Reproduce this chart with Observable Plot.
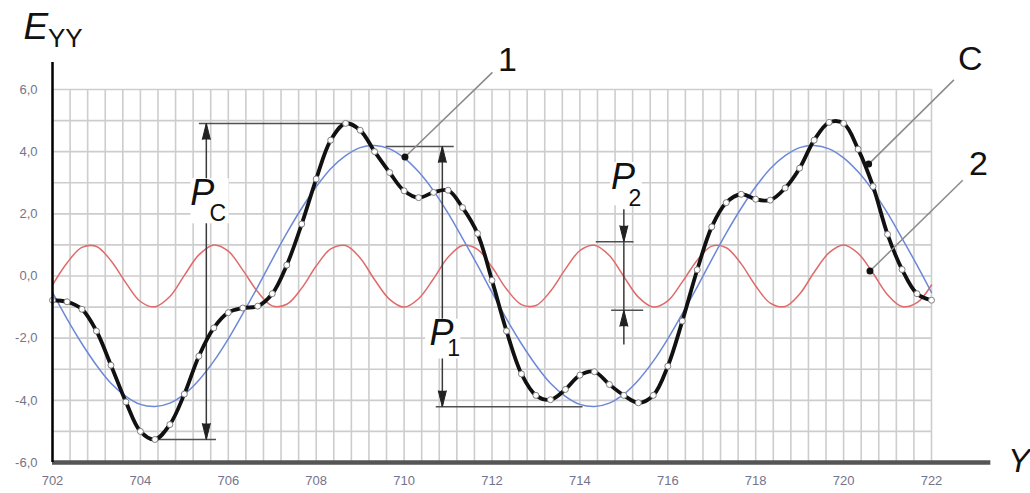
<!DOCTYPE html>
<html><head><meta charset="utf-8">
<script src="https://cdn.jsdelivr.net/npm/d3@7"></script>
<script src="https://cdn.jsdelivr.net/npm/@observablehq/plot@0.6"></script>
<style>body{margin:0;background:#fff;}</style>
</head><body><div id="chart"></div>
<script>
// ---- data ----
const xs = [702, 702.33, 702.67, 703, 703.33, 703.67, 704, 704.33, 704.67, 705,
  705.33, 705.67, 706, 706.33, 706.67, 707, 707.33, 707.67, 708, 708.33,
  708.67, 709, 709.33, 709.67, 710, 710.33, 710.67, 711, 711.33, 711.67,
  712, 712.33, 712.67, 713, 713.33, 713.67, 714, 714.33, 714.67, 715,
  715.33, 715.67, 716, 716.33, 716.67, 717, 717.33, 717.67, 718, 718.33,
  718.67, 719, 719.33, 719.67, 720, 720.33, 720.67, 721, 721.33, 721.67, 722];
// curve C (sum)
const seriesC = [-0.78, -0.83, -1.07, -1.77, -2.87, -4.05, -5.0, -5.26, -4.78, -3.8,
  -2.58, -1.67, -1.18, -1.03, -0.97, -0.57, 0.35, 1.67, 3.12, 4.37,
  4.91, 4.69, 4.0, 3.33, 2.74, 2.52, 2.69, 2.76, 2.2, 1.37,
  -0.14, -1.77, -3.15, -3.84, -3.98, -3.65, -3.19, -3.08, -3.49, -3.84,
  -4.08, -3.84, -2.9, -1.45, 0.2, 1.58, 2.36, 2.63, 2.47, 2.44,
  2.83, 3.47, 4.37, 4.94, 4.91, 4.08, 2.88, 1.34, 0.21, -0.57, -0.78];
// curve 1 (blue)
const series1 = [-0.53, -1.38, -2.18, -2.87, -3.45, -3.87, -4.13, -4.2, -4.09, -3.8,
  -3.35, -2.74, -2.02, -1.21, -0.35, 0.53, 1.38, 2.18, 2.87, 3.45,
  3.87, 4.13, 4.2, 4.09, 3.8, 3.35, 2.74, 2.02, 1.21, 0.35,
  -0.53, -1.38, -2.18, -2.87, -3.45, -3.87, -4.13, -4.2, -4.09, -3.8,
  -3.35, -2.74, -2.02, -1.21, -0.35, 0.53, 1.38, 2.18, 2.87, 3.45,
  3.87, 4.13, 4.2, 4.09, 3.8, 3.35, 2.74, 2.02, 1.21, 0.35, -0.53];
// curve 2 (red)
const series2 = [-0.29, 0.42, 0.92, 0.95, 0.49, -0.22, -0.82, -0.99, -0.66, 0.02,
  0.68, 1.0, 0.8, 0.19, -0.51, -0.96, -0.91, -0.39, 0.32, 0.87,
  0.98, 0.58, -0.12, -0.75, -1.0, -0.73, -0.09, 0.6, 0.98, 0.86,
  0.29, -0.42, -0.92, -0.95, -0.49, 0.22, 0.82, 0.99, 0.66, -0.02,
  -0.68, -1.0, -0.8, -0.19, 0.51, 0.96, 0.91, 0.39, -0.32, -0.87,
  -0.98, -0.58, 0.12, 0.75, 1.0, 0.73, 0.09, -0.6, -0.98, -0.86, -0.29];

const xTicks = [702, 704, 706, 708, 710, 712, 714, 716, 718, 720, 722];
const yTicks = [-6, -4, -2, 0, 2, 4, 6];
const yTickLabels = ["-6,0", "-4,0", "-2,0", "0,0", "2,0", "4,0", "6,0"];

// ---- annotations ----
const dimVertical = [
  {x: 705.5, y1: 4.91, y2: -5.26},
  {x: 710.87, y1: 4.17, y2: -4.21},
  {x: 715.0, y1: 2.15, y2: -2.2}
];
const dimExtension = [
  {x1: 705.33, x2: 708.67, y: 4.91}, {x1: 704.31, x2: 705.72, y: -5.26},
  {x1: 709.58, x2: 711.13, y: 4.17}, {x1: 710.72, x2: 714.06, y: -4.21},
  {x1: 714.36, x2: 715.22, y: 1.1}, {x1: 714.71, x2: 715.44, y: -1.1}
];
const dimArrows = [
  {x: 705.5, y: 4.91, rot: 0}, {x: 705.5, y: -5.26, rot: 180},
  {x: 710.87, y: 4.17, rot: 0}, {x: 710.87, y: -4.21, rot: 180},
  {x: 715.0, y: 1.1, rot: 180}, {x: 715.0, y: -1.1, rot: 0}
];
const pBoxes = [
  {x1: 705.15, x2: 706.02, y1: 1.68, y2: 3.13},
  {x1: 710.49, x2: 711.29, y1: -2.67, y2: -1.39},
  {x1: 714.7, x2: 715.42, y1: 2.26, y2: 3.65}
];
const pMain = [{x: 705.41, y: 2.65}, {x: 710.85, y: -1.86}, {x: 714.98, y: 3.16}];
const pSub = [{x: 705.76, y: 2.02, t: "C"}, {x: 711.13, y: -2.33, t: "1"}, {x: 715.25, y: 2.49, t: "2"}];
const leaders = [
  {t: "1", x1: 712.01, y1: 6.55, x2: 710.02, y2: 3.83, tx: 712.35, ty: 6.94},
  {t: "C", x1: 722.51, y1: 6.31, x2: 720.57, y2: 3.6, tx: 722.88, ty: 6.98},
  {t: "2", x1: 722.71, y1: 3.08, x2: 720.6, y2: 0.16, tx: 723.07, ty: 3.59}
];

const rows = xs.map((x, i) => ({x, c: seriesC[i], b: series1[i], r: series2[i]}));
const gridX = d3.range(0, 51).map(i => 702 + i * 0.4);
const gridY = d3.range(-6, 7);
const FONT = "'Liberation Sans', Arial, sans-serif";
const TICK = "#74748a";

const chart = Plot.plot({
  width: 1030, height: 493,
  marginLeft: 52, marginRight: 99, marginTop: 89, marginBottom: 31,
  x: {domain: [702, 722]},
  y: {domain: [-6, 6]},
  style: {fontFamily: FONT, background: "#fff", overflow: "visible"},
  marks: [
    Plot.ruleX(gridX, {stroke: "#cdcdcd", strokeWidth: 1.6}),
    Plot.ruleY(gridY, {stroke: "#cdcdcd", strokeWidth: 1.6}),
    Plot.line(rows, {x: "x", y: "r", stroke: "#e06a6a", strokeWidth: 1.5, curve: "catmull-rom"}),
    Plot.line(rows, {x: "x", y: "b", stroke: "#6c88d8", strokeWidth: 1.5, curve: "catmull-rom"}),
    Plot.link(dimVertical, {x1: "x", x2: "x", y1: "y1", y2: "y2", stroke: "#3a3a3a", strokeWidth: 1.5}),
    Plot.link(dimExtension, {x1: "x1", x2: "x2", y1: "y", y2: "y", stroke: "#505050", strokeWidth: 1.5}),
    Plot.vector(dimArrows, {x: "x", y: "y", rotate: "rot", length: 16, r: 4, shape: "spike", anchor: "end", fill: "#222", stroke: "#222", strokeWidth: 1}),
    Plot.line(rows, {x: "x", y: "c", stroke: "#111", strokeWidth: 3.8, curve: "catmull-rom"}),
    Plot.dot(rows, {x: "x", y: "c", r: 3, fill: "#fff", stroke: "#808080", strokeWidth: 1}),
    Plot.link(leaders, {x1: "x1", y1: "y1", x2: "x2", y2: "y2", stroke: "#8a8a8a", strokeWidth: 1.5}),
    Plot.dot(leaders, {x: "x2", y: "y2", r: 3.5, fill: "#111"}),
    Plot.text(leaders, {x: "tx", y: "ty", text: "t", fontSize: 34, fill: "#111"}),
    Plot.rect(pBoxes, {x1: "x1", x2: "x2", y1: "y1", y2: "y2", fill: "#fff"}),
    Plot.text(pMain, {x: "x", y: "y", text: d => "P", fontSize: 36, fontStyle: "italic", fill: "#111"}),
    Plot.text(pSub, {x: "x", y: "y", text: "t", fontSize: 23, fill: "#111"}),
    Plot.ruleY([-6], {x1: 702, x2: 723.35, stroke: "#555", strokeWidth: 4.5}),
    Plot.ruleX([702], {y1: -6, y2: 6.87, stroke: "#000", strokeWidth: 2.5}),
    Plot.text([{x: 701.62, y: 8.01}], {x: "x", y: "y", text: d => "E", fontSize: 37, fontStyle: "italic", fill: "#111"}),
    Plot.text([{x: 702.29, y: 7.64}], {x: "x", y: "y", text: d => "YY", fontSize: 26, fill: "#111"}),
    Plot.text([{x: 723.99, y: -5.96}], {x: "x", y: "y", text: d => "Y", fontSize: 33, fontStyle: "italic", fill: "#111"}),
    Plot.axisX(xTicks, {tickSize: 0, tickPadding: 13, fontSize: 13, color: TICK, label: null, tickFormat: d => String(d)}),
    Plot.axisY(yTicks, {tickSize: 0, tickPadding: 15, fontSize: 13, color: TICK, label: null, tickFormat: d => yTickLabels[yTicks.indexOf(d)]})
  ]
});
document.getElementById("chart").appendChild(chart);
</script>
</body></html>
